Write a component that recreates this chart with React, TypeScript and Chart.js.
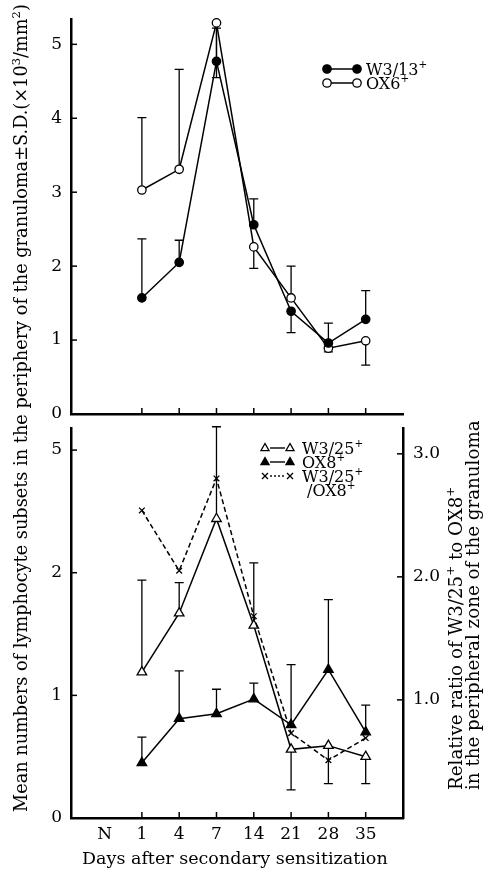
import React, { useEffect, useRef } from "react";
import { Chart, registerables } from "chart.js";

Chart.register(...registerables);

// ---------- data ----------
const dayLabels = ["N", "1", "4", "7", "14", "21", "28", "35"];
const dayIndex = [1, 2, 3, 4, 5, 6, 7];

// top panel (x10^3/mm^2)
const w313 = [1.57, 2.05, 4.77, 2.56, 1.39, 0.96, 1.28];
const w313Err = [2.37, 2.35, 5.22, 2.91, 1.1, 1.23, 1.67];
const ox6 = [3.03, 3.31, 5.29, 2.26, 1.57, 0.89, 0.99];
const ox6Err = [4.01, 4.66, 4.55, 1.97, 2.0, 0.84, 0.66];

// bottom panel
const w325 = [1.19, 1.67, 2.44, 1.57, 0.56, 0.59, 0.5];
const w325Err = [1.94, 1.92, 3.19, 2.08, 0.23, 0.28, 0.28];
const ox8 = [0.45, 0.81, 0.85, 0.97, 0.76, 1.21, 0.7];
const ox8Err = [0.66, 1.2, 1.05, 1.1, 1.25, 1.78, 0.92];
const ratio = [2.54, 2.05, 2.8, 1.68, 0.73, 0.51, 0.69];

// ticks
const topTickValues = [0, 1, 2, 3, 4, 5];
const bottomTickValues = [0, 1, 2, 3];
const bottomTickLabels = ["0", "1", "2", "5"];
const ratioTickValues = [1, 2, 3];

// ---------- layout ----------
const W = 497;
const H = 873;
const FONT = "'DejaVu Serif', serif";
const AREA_LEFT = 71;
const AREA_RIGHT = 403;
const TOP_TOP = 18;
const TOP_BOTTOM = 414;
const BOT_TOP = 428;
const BOT_BOTTOM = 818;
const X_MIN = -0.9;
const X_MAX = 8.0;

type Seg = [string, boolean];

function richWidth(ctx: CanvasRenderingContext2D, segs: Seg[], size: number) {
  let w = 0;
  for (const [t, sup] of segs) {
    ctx.font = `${sup ? size * 0.65 : size}px ${FONT}`;
    w += ctx.measureText(t).width;
  }
  return w;
}
function drawRich(ctx: CanvasRenderingContext2D, segs: Seg[], x: number, y: number, size: number) {
  let cx = x;
  ctx.textBaseline = "alphabetic";
  ctx.textAlign = "left";
  for (const [t, sup] of segs) {
    ctx.font = `${sup ? size * 0.65 : size}px ${FONT}`;
    ctx.fillText(t, cx, sup ? y - size * 0.42 : y);
    cx += ctx.measureText(t).width;
  }
}
function fitSize(ctx: CanvasRenderingContext2D, segs: Seg[], target: number) {
  return (100 * target) / richWidth(ctx, segs, 100);
}

function marker(ctx: CanvasRenderingContext2D, kind: string, x: number, y: number, r: number, filled: boolean) {
  ctx.save();
  ctx.strokeStyle = "#000";
  ctx.fillStyle = filled ? "#000" : "#fff";
  ctx.lineWidth = 1.3;
  ctx.beginPath();
  if (kind === "circle") {
    ctx.arc(x, y, r, 0, Math.PI * 2);
    ctx.fill();
    ctx.stroke();
  } else if (kind === "triangle") {
    ctx.moveTo(x, y - r);
    ctx.lineTo(x - r * 0.9, y + r * 0.6);
    ctx.lineTo(x + r * 0.9, y + r * 0.6);
    ctx.closePath();
    ctx.fill();
    ctx.stroke();
  } else {
    ctx.moveTo(x - r, y - r);
    ctx.lineTo(x + r, y + r);
    ctx.moveTo(x + r, y - r);
    ctx.lineTo(x - r, y + r);
    ctx.stroke();
  }
  ctx.restore();
}

function xScale(showLabels: boolean, height: number, tickVals: number[]) {
  return {
    type: "linear",
    position: "bottom",
    min: X_MIN,
    max: X_MAX,
    afterBuildTicks: (s: any) => {
      s.ticks = tickVals.map((v) => ({ value: v }));
    },
    ticks: {
      display: showLabels,
      autoSkip: false,
      maxRotation: 0,
      padding: 6,
      color: "#000",
      font: { family: FONT, size: 17 },
      callback: (v: any) => dayLabels[Math.round(Number(v))] ?? "",
    },
    grid: { display: false, drawTicks: false },
    border: { display: true, color: "#000", width: 2.5 },
    afterFit: (s: any) => {
      s.height = height;
    },
  };
}

function yScale(min: number, max: number, vals: number[], labels: string[], side: "left" | "right", width: number, pad: number) {
  return {
    type: "linear",
    position: side,
    min,
    max,
    afterBuildTicks: (s: any) => {
      s.ticks = vals.map((v) => ({ value: v }));
    },
    ticks: {
      padding: pad,
      color: "#000",
      font: { family: FONT, size: 17 },
      callback: (v: any) => {
        const i = vals.indexOf(Number(v));
        return i >= 0 ? labels[i] : "";
      },
    },
    grid: { display: false, drawTicks: false },
    border: { display: true, color: "#000", width: 2.5 },
    afterFit: (s: any) => {
      s.width = width;
    },
  };
}

function inwardTicks(specs: { id: string; values: number[]; dir: "up" | "right" | "left" }[]) {
  return {
    id: "inwardTicks",
    afterDraw(chart: any) {
      const ctx = chart.ctx as CanvasRenderingContext2D;
      ctx.save();
      ctx.strokeStyle = "#000";
      ctx.lineWidth = 1.5;
      for (const sp of specs) {
        const sc = chart.scales[sp.id];
        for (const v of sp.values) {
          const p = sc.getPixelForValue(v);
          ctx.beginPath();
          if (sp.dir === "up") {
            ctx.moveTo(p, sc.top);
            ctx.lineTo(p, sc.top - 6);
          } else if (sp.dir === "right") {
            ctx.moveTo(sc.right, p);
            ctx.lineTo(sc.right + 6, p);
          } else {
            ctx.moveTo(sc.left, p);
            ctx.lineTo(sc.left - 6, p);
          }
          ctx.stroke();
        }
      }
      ctx.restore();
    },
  };
}

function errorBars(sets: { values: number[]; ends: number[]; axis: string }[]) {
  return {
    id: "errorBars",
    beforeDatasetsDraw(chart: any) {
      const ctx = chart.ctx as CanvasRenderingContext2D;
      const xs = chart.scales.x;
      ctx.save();
      ctx.strokeStyle = "#000";
      ctx.lineWidth = 1.3;
      for (const st of sets) {
        const ys = chart.scales[st.axis];
        st.values.forEach((v, i) => {
          const e = st.ends[i];
          if (e == null) return;
          const x = xs.getPixelForValue(dayIndex[i]);
          const y0 = ys.getPixelForValue(v);
          const y1 = ys.getPixelForValue(e);
          ctx.beginPath();
          ctx.moveTo(x, y0);
          ctx.lineTo(x, y1);
          ctx.moveTo(x - 4.5, y1);
          ctx.lineTo(x + 4.5, y1);
          ctx.stroke();
        });
      }
      ctx.restore();
    },
  };
}

function lineDs(values: number[], axis: string, style: string, filled: boolean, radius: number, dash: number[] = []) {
  return {
    data: dayIndex.map((x, i) => ({ x, y: values[i] })),
    yAxisID: axis,
    borderColor: "#000",
    borderWidth: 1.5,
    borderDash: dash,
    tension: 0,
    fill: false,
    clip: false,
    pointStyle: style,
    pointRadius: radius,
    pointBorderWidth: 1.3,
    pointBorderColor: "#000",
    pointBackgroundColor: filled ? "#000" : "#fff",
  };
}

const topLegend = {
  id: "topLegend",
  afterDraw(chart: any) {
    const ctx = chart.ctx as CanvasRenderingContext2D;
    ctx.save();
    ctx.fillStyle = "#000";
    ctx.strokeStyle = "#000";
    ctx.lineWidth = 1.5;
    const rows: [number, boolean, Seg[]][] = [
      [69, true, [["W3/13", false], ["+", true]]],
      [83, false, [["OX6", false], ["+", true]]],
    ];
    for (const [y, filled, segs] of rows) {
      ctx.beginPath();
      ctx.moveTo(328, y);
      ctx.lineTo(356, y);
      ctx.stroke();
      marker(ctx, "circle", 327, y, 4.2, filled);
      marker(ctx, "circle", 357, y, 4.2, filled);
      ctx.fillStyle = "#000";
      drawRich(ctx, segs, 366, y + 5.5, 16);
    }
    ctx.restore();
  },
};

const bottomDecor = {
  id: "bottomDecor",
  afterDraw(chart: any) {
    const ctx = chart.ctx as CanvasRenderingContext2D;
    ctx.save();
    ctx.fillStyle = "#000";
    ctx.strokeStyle = "#000";
    // legend
    const rows: [number, string, boolean, number[], Seg[]][] = [
      [448, "triangle", false, [], [["W3/25", false], ["+", true]]],
      [462, "triangle", true, [], [["OX8", false], ["+", true]]],
      [476, "cross", false, [2, 2], [["W3/25", false], ["+", true]]],
    ];
    for (const [y, kind, filled, dash, segs] of rows) {
      ctx.save();
      ctx.lineWidth = 1.4;
      ctx.setLineDash(dash);
      ctx.beginPath();
      ctx.moveTo(270, y);
      ctx.lineTo(285, y);
      ctx.stroke();
      ctx.restore();
      marker(ctx, kind, 265, y, kind === "cross" ? 3 : 4.5, filled);
      marker(ctx, kind, 290, y, kind === "cross" ? 3 : 4.5, filled);
      ctx.fillStyle = "#000";
      drawRich(ctx, segs, 302, y + 5.5, 16);
    }
    drawRich(ctx, [["/OX8", false], ["+", true]], 307, 490 + 5.5, 16);

    // x title
    const xt: Seg[] = [["Days after secondary sensitization", false]];
    const xs = fitSize(ctx, xt, 306);
    ctx.fillStyle = "#000";
    drawRich(ctx, xt, 82, 864, xs);

    // left title (rotated)
    const lt: Seg[] = [
      ["Mean numbers of lymphocyte subsets in the periphery of the granuloma\u00b1S.D.(\u00d710", false],
      ["3", true],
      ["/mm", false],
      ["2", true],
      [")", false],
    ];
    const ls = fitSize(ctx, lt, 808);
    ctx.save();
    ctx.translate(21, 812);
    ctx.rotate(-Math.PI / 2);
    drawRich(ctx, lt, 0, ls * 0.36, ls);
    ctx.restore();

    // right title (two rotated lines)
    const r1: Seg[] = [
      ["Relative ratio of W3/25", false],
      ["+", true],
      [" to OX8", false],
      ["+", true],
    ];
    const r2: Seg[] = [["in the peripheral zone of the granuloma", false]];
    const rs = fitSize(ctx, r2, 370);
    ctx.save();
    ctx.translate(455, 790);
    ctx.rotate(-Math.PI / 2);
    drawRich(ctx, r1, 0, rs * 0.36, rs);
    ctx.restore();
    ctx.save();
    ctx.translate(472, 790);
    ctx.rotate(-Math.PI / 2);
    drawRich(ctx, r2, 0, rs * 0.36, rs);
    ctx.restore();
    ctx.restore();
  },
};

function topConfig(): any {
  return {
    type: "line",
    data: {
      datasets: [
        lineDs(w313, "y", "circle", true, 4.2),
        lineDs(ox6, "y", "circle", false, 4.2),
      ],
    },
    options: {
      animation: false,
      responsive: false,
      events: [],
      layout: { padding: { top: TOP_TOP, right: W - AREA_RIGHT, left: 0, bottom: 0 } },
      plugins: { legend: { display: false }, tooltip: { enabled: false } },
      scales: {
        x: xScale(false, H - TOP_BOTTOM, dayIndex),
        y: yScale(0, 5.34, topTickValues, topTickValues.map(String), "left", AREA_LEFT, 9),
      },
    },
    plugins: [
      errorBars([
        { values: w313, ends: w313Err, axis: "y" },
        { values: ox6, ends: ox6Err, axis: "y" },
      ]),
      inwardTicks([
        { id: "x", values: dayIndex, dir: "up" },
        { id: "y", values: topTickValues, dir: "right" },
      ]),
      topLegend,
    ],
  };
}

function bottomConfig(): any {
  return {
    type: "line",
    data: {
      datasets: [
        lineDs(ratio, "y2", "crossRot", false, 4, [5, 3]),
        lineDs(w325, "y", "triangle", false, 5.5),
        lineDs(ox8, "y", "triangle", true, 5.5),
      ],
    },
    options: {
      animation: false,
      responsive: false,
      events: [],
      layout: { padding: { top: BOT_TOP, right: 0, left: 0, bottom: 0 } },
      plugins: { legend: { display: false }, tooltip: { enabled: false } },
      scales: {
        x: xScale(true, H - BOT_BOTTOM, [0, ...dayIndex]),
        y: yScale(0, 3.18, bottomTickValues, bottomTickLabels, "left", AREA_LEFT, 9),
        y2: yScale(0.04, 3.21, ratioTickValues, ratioTickValues.map((v) => v.toFixed(1)), "right", W - AREA_RIGHT, 10),
      },
    },
    plugins: [
      errorBars([
        { values: w325, ends: w325Err, axis: "y" },
        { values: ox8, ends: ox8Err, axis: "y" },
      ]),
      inwardTicks([
        { id: "x", values: dayIndex, dir: "up" },
        { id: "y", values: bottomTickValues, dir: "right" },
        { id: "y2", values: ratioTickValues, dir: "left" },
      ]),
      bottomDecor,
    ],
  };
}

export default function App() {
  const topRef = useRef<HTMLCanvasElement>(null);
  const botRef = useRef<HTMLCanvasElement>(null);
  useEffect(() => {
    const charts = [new Chart(topRef.current!, topConfig()), new Chart(botRef.current!, bottomConfig())];
    return () => charts.forEach((c) => c.destroy());
  }, []);
  const cs: React.CSSProperties = { position: "absolute", left: 0, top: 0, width: W, height: H };
  return (
    <div style={{ position: "absolute", left: 0, top: 0, width: W, height: H, background: "#fff" }}>
      <canvas ref={topRef} width={W} height={H} style={cs} />
      <canvas ref={botRef} width={W} height={H} style={cs} />
    </div>
  );
}
